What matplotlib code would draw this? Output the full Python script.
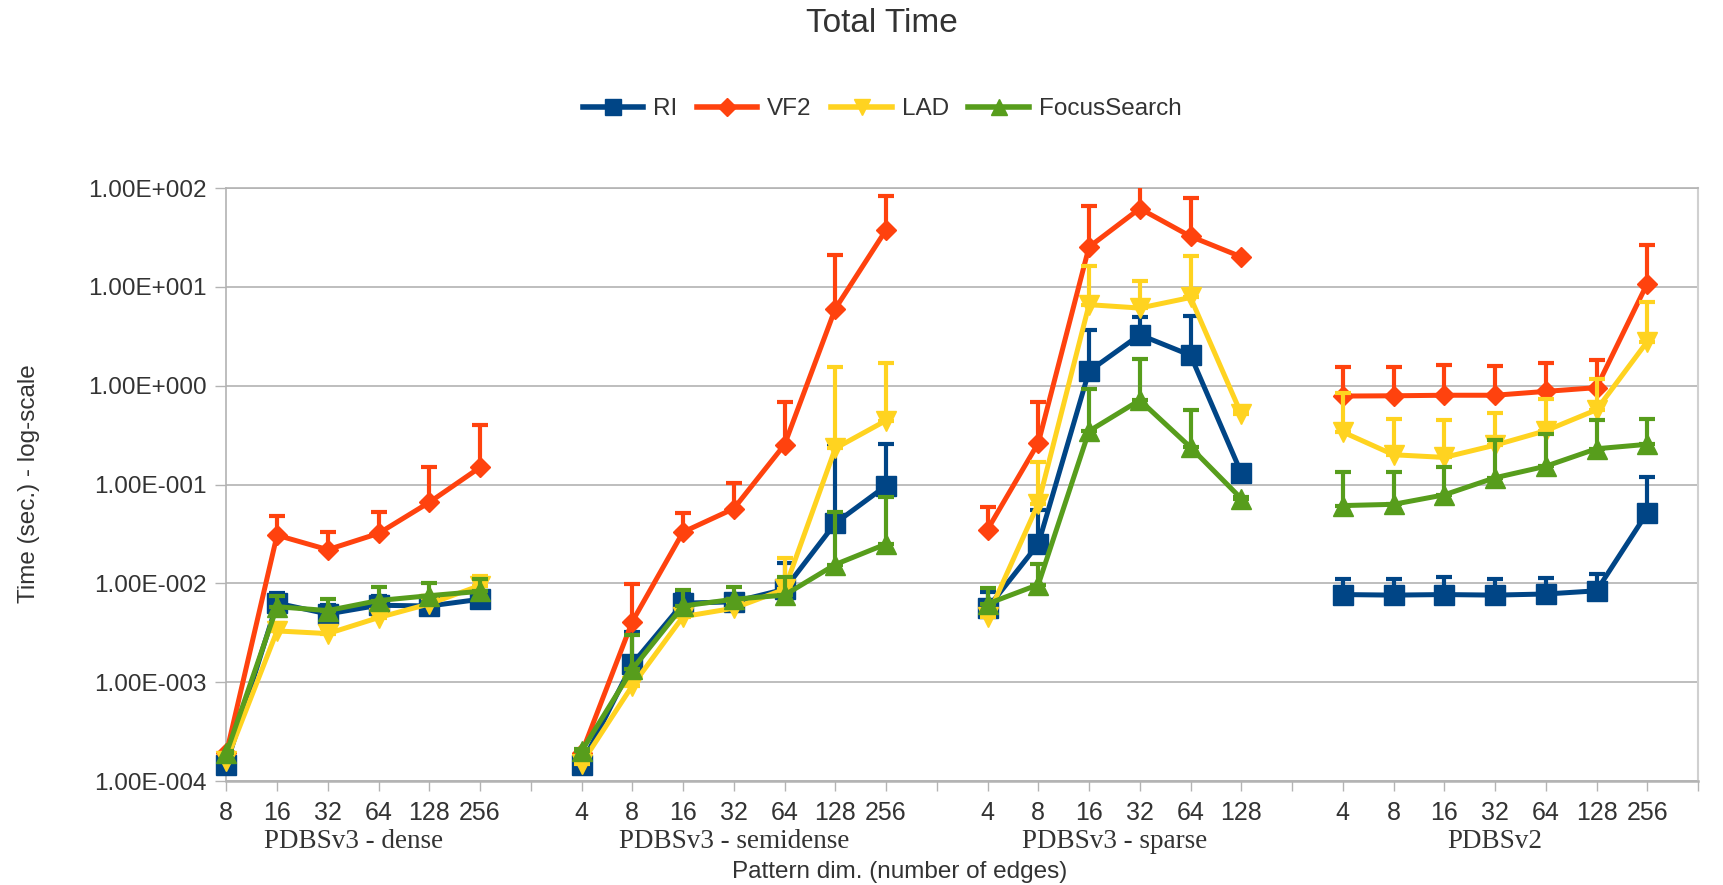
import numpy as np
import matplotlib
matplotlib.use("Agg")
import matplotlib.pyplot as plt
from matplotlib.lines import Line2D

# groups of test sets and their pattern sizes (number of edges)
groups = ['PDBSv3 - dense', 'PDBSv3 - semidense', 'PDBSv3 - sparse', 'PDBSv2']
dense_edges = [8, 16, 32, 64, 128, 256]
semidense_edges = [4, 8, 16, 32, 64, 128, 256]
sparse_edges = [4, 8, 16, 32, 64, 128]
v2_edges = [4, 8, 16, 32, 64, 128, 256]

# mean total time (sec.), per group
ri_dense = [1.45e-4, 6.3e-3, 4.9e-3, 6.0e-3, 5.9e-3, 6.9e-3]
ri_semidense = [1.46e-4, 1.53e-3, 6.3e-3, 6.5e-3, 8.7e-3, 4.06e-2, 9.7e-2]
ri_sparse = [5.6e-3, 2.5e-2, 1.4, 3.27, 2.03, 0.131]
ri_v2 = [7.7e-3, 7.6e-3, 7.7e-3, 7.6e-3, 7.8e-3, 8.4e-3, 5.2e-2]

vf2_dense = [1.9e-4, 3.07e-2, 2.19e-2, 3.2e-2, 6.6e-2, 1.49e-1]
vf2_semidense = [1.9e-4, 4.1e-3, 3.3e-2, 5.7e-2, 0.253, 6.0, 37.6]
vf2_sparse = [3.5e-2, 0.263, 25.3, 62.0, 32.4, 20.1]
vf2_v2 = [0.785, 0.79, 0.8, 0.8, 0.875, 0.955, 10.8]

lad_dense = [1.6e-4, 3.3e-3, 3.1e-3, 4.5e-3, 6.2e-3, 9.5e-3]
lad_semidense = [1.5e-4, 9.2e-4, 4.6e-3, 5.6e-3, 8.7e-3, 0.232, 0.444]
lad_sparse = [4.6e-3, 6.4e-2, 6.6, 6.1, 7.8, 0.518]
lad_v2 = [0.34, 0.2, 0.188, 0.25, 0.35, 0.57, 2.79]

fs_dense = [1.9e-4, 5.8e-3, 5.3e-3, 6.7e-3, 7.5e-3, 8.3e-3]
fs_semidense = [2.0e-4, 1.35e-3, 5.9e-3, 6.9e-3, 7.6e-3, 1.55e-2, 2.5e-2]
fs_sparse = [6.2e-3, 9.7e-3, 0.347, 0.713, 0.238, 7.2e-2]
fs_v2 = [6.12e-2, 6.3e-2, 7.86e-2, 0.117, 0.153, 0.23, 0.255]

# top of the (upper only) error bars
ri_dense_hi = [1.5e-4, 7.9e-3, 6.0e-3, 7.5e-3, 7.0e-3, 8.0e-3]
ri_semidense_hi = [1.5e-4, 3.2e-3, 7.9e-3, 7.7e-3, 1.59e-2, 0.243, 0.257]
ri_sparse_hi = [8.2e-3, 5.5e-2, 3.7, 5.0, 5.1, 0.14]
ri_v2_hi = [1.1e-2, 1.1e-2, 1.15e-2, 1.1e-2, 1.12e-2, 1.23e-2, 0.12]

vf2_dense_hi = [2.0e-4, 4.8e-2, 3.3e-2, 5.3e-2, 1.49e-1, 4.0e-1]
vf2_semidense_hi = [2.0e-4, 9.8e-3, 5.1e-2, 0.104, 0.686, 21.0, 83.0]
vf2_sparse_hi = [5.96e-2, 0.684, 65.0, 110.0, 79.0, 20.5]
vf2_v2_hi = [1.53, 1.56, 1.6, 1.59, 1.68, 1.82, 26.7]

lad_dense_hi = [1.7e-4, 4.0e-3, 3.5e-3, 5.5e-3, 7.5e-3, 1.19e-2]
lad_semidense_hi = [1.6e-4, 1.1e-3, 5.5e-3, 7.0e-3, 1.79e-2, 1.53, 1.69]
lad_sparse_hi = [5.0e-3, 0.17, 16.1, 11.4, 20.7, 0.55]
lad_v2_hi = [0.836, 0.456, 0.45, 0.525, 0.73, 1.16, 7.0]

fs_dense_hi = [2.0e-4, 7.5e-3, 7.0e-3, 9.2e-3, 1.0e-2, 1.1e-2]
fs_semidense_hi = [2.1e-4, 3.0e-3, 8.5e-3, 9.1e-3, 1.16e-2, 5.3e-2, 7.5e-2]
fs_sparse_hi = [9.0e-3, 1.57e-2, 0.92, 1.86, 0.57, 7.5e-2]
fs_v2_hi = [0.134, 0.134, 0.149, 0.279, 0.328, 0.447, 0.46]

y_ticks = [1e-4, 1e-3, 1e-2, 1e-1, 1e0, 1e1, 1e2]
y_tick_labels = ['1.00E-004', '1.00E-003', '1.00E-002', '1.00E-001',
                 '1.00E+000', '1.00E+001', '1.00E+002']

series = [
    ('RI', '#004586', 's', 14, [ri_dense, ri_semidense, ri_sparse, ri_v2],
     [ri_dense_hi, ri_semidense_hi, ri_sparse_hi, ri_v2_hi]),
    ('VF2', '#ff420e', 'D', 10.5, [vf2_dense, vf2_semidense, vf2_sparse, vf2_v2],
     [vf2_dense_hi, vf2_semidense_hi, vf2_sparse_hi, vf2_v2_hi]),
    ('LAD', '#ffd320', 'v', 14, [lad_dense, lad_semidense, lad_sparse, lad_v2],
     [lad_dense_hi, lad_semidense_hi, lad_sparse_hi, lad_v2_hi]),
    ('FocusSearch', '#579d1c', '^', 14, [fs_dense, fs_semidense, fs_sparse, fs_v2],
     [fs_dense_hi, fs_semidense_hi, fs_sparse_hi, fs_v2_hi]),
]

group_edges = [dense_edges, semidense_edges, sparse_edges, v2_edges]

TEXT = '#333333'
GRID = '#b3b3b3'
plt.rcParams['font.family'] = ['Liberation Sans', 'DejaVu Sans']

# category slots, one empty slot between groups
starts = []
pos = 0
for edges in group_edges:
    starts.append(pos)
    pos += len(edges) + 1
n_slots = pos - 1

fig = plt.figure(figsize=(17.24, 8.85), dpi=100)
W, H = 1724, 885
ax = fig.add_axes([226.3 / W, 1 - 781 / H, (1698 - 226.3) / W, (781 - 188) / H])

handles = []
for k, (name, color, marker, ms, vals, his) in enumerate(series):
    for g, start in enumerate(starts):
        x = np.arange(start, start + len(group_edges[g]))
        y = np.array(vals[g])
        err = np.array(his[g]) - y
        ax.errorbar(x, y, yerr=[np.zeros_like(err), err], fmt='none', ecolor=color,
                    elinewidth=3, capsize=6, capthick=3, zorder=3 + k)
        ax.plot(x, y, color=color, lw=3.6, marker=marker, ms=ms, mec=color,
                clip_on=False, zorder=3 + k)
    handles.append(Line2D([], [], color=color, lw=4, marker=marker, ms=ms * 0.85, mec=color))

ax.set_yscale('log')
ax.set_ylim(1e-4, 1e2)
ax.set_xlim(0, n_slots)
ax.set_yticks(y_ticks)
ax.set_yticklabels(y_tick_labels)
ax.yaxis.set_minor_locator(matplotlib.ticker.NullLocator())

xt = list(range(n_slots + 1))
xl = [''] * (n_slots + 1)
for g, start in enumerate(starts):
    for i, e in enumerate(group_edges[g]):
        xl[start + i] = str(e)
ax.set_xticks(xt)
ax.set_xticklabels(xl)

ax.tick_params(axis='y', length=8, width=1, color=GRID, labelsize=17.5, labelcolor=TEXT, pad=6)
ax.tick_params(axis='x', length=7.5, width=1, color=GRID, labelsize=18, labelcolor=TEXT, pad=7)
ax.grid(axis='y', color=GRID, lw=1.2)
ax.set_axisbelow(True)
for side in ['left', 'bottom', 'top']:
    ax.spines[side].set_color(GRID)
    ax.spines[side].set_linewidth(1.2)
ax.spines['bottom'].set_linewidth(1.8)
ax.spines['right'].set_color('#d0d0d0')
ax.spines['right'].set_linewidth(1.5)

for g, start in enumerate(starts):
    cx = start + (len(group_edges[g]) - 1) / 2
    ax.text(cx, (781 - 842) / 593, groups[g], transform=ax.get_xaxis_transform(),
            ha='center', va='center', fontsize=19.5, color=TEXT,
            family=['Liberation Serif', 'DejaVu Serif'])

fig.text(900 / W, 1 - 872 / H, 'Pattern dim. (number of edges)', ha='center', va='center',
         fontsize=17.5, color=TEXT)
fig.text(29 / W, 1 - 484 / H, 'Time (sec.) - log-scale', ha='center', va='center',
         rotation=90, fontsize=17.5, color=TEXT)
fig.text(882 / W, 1 - 23 / H, 'Total Time', ha='center', va='center', fontsize=24, color=TEXT)

fig.legend(handles, [s[0] for s in series], loc='center', bbox_to_anchor=(882 / W, 1 - 109 / H),
           ncol=4, frameon=False, fontsize=17.5, handlelength=2.5, handletextpad=0.4,
           columnspacing=0.8, labelcolor=TEXT)

fig.savefig('out.png', dpi=100)
